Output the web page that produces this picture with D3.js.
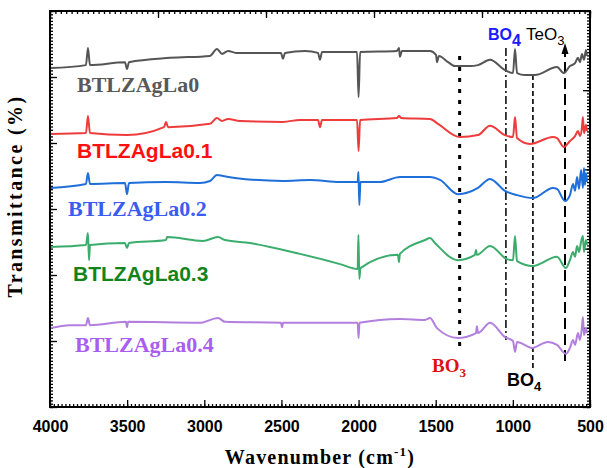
<!DOCTYPE html>
<html>
<head>
<meta charset="utf-8">
<script src="https://cdn.jsdelivr.net/npm/d3@7"></script>
<style>
  body { margin: 0; background: #fff; }
  svg { display: block; }
</style>
</head>
<body>
<div id="chart"></div>
<script>
// FTIR spectra, values (wavenumber, transmittance a.u.)
var xTicks = [4000, 3500, 3000, 2500, 2000, 1500, 1000, 500];

var seriesNames = ["BTLZAgLa0", "BTLZAgLa0.1", "BTLZAgLa0.2", "BTLZAgLa0.3", "BTLZAgLa0.4"];

var la0 = [[4000,102.7],[3767,103.6],[3754,108.8],[3741,103.6],[3514,104.5],[3501,102.4],[3488,104.5],
  [3222,105.8],[2963,106.4],[2918,108.5],[2885,107.0],[2846,107.9],[2794,107.3],[2503,107.3],[2490,105.5],
  [2477,107.3],[2347,107.9],[2263,107.3],[2250,105.2],[2237,107.6],[2010,107.6],[2000,93.9],[1990,107.6],
  [1751,107.9],[1738,108.8],[1732,106.1],[1719,107.9],[1537,107.9],[1498,106.7],[1492,104.5],[1479,106.4],
  [1420,104.5],[1375,103.3],[1278,103.3],[1226,103.6],[1148,105.2],[1051,102.1],[999,101.2],[986,108.5],[973,101.2],
  [922,100.6],[857,100.6],[714,103.0],[669,101.2],[630,103.3],[597,104.2],[578,105.8],[565,104.5],
  [552,107.0],[539,105.2],[526,108.2],[520,106.4]];

var la01 = [[4000,82.7],[3767,83.0],[3754,88.2],[3741,83.0],[3501,82.4],[3261,84.8],[3248,86.4],[3235,84.8],
  [2963,85.8],[2918,87.6],[2885,86.7],[2846,87.3],[2769,86.7],[2490,86.4],[2380,87.0],[2263,87.0],[2250,84.8],
  [2237,87.0],[2010,87.0],[2000,77.6],[1990,87.0],[1751,87.6],[1738,88.2],[1725,87.6],[1537,87.3],[1485,85.8],
  [1343,81.8],[1226,82.4],[1148,85.2],[1051,82.4],[999,81.8],[986,87.9],[973,81.5],[889,79.7],[740,81.8],
  [714,81.5],[669,78.8],[630,80.6],[597,82.1],[578,83.6],[565,82.1],[552,84.8],[546,87.9],[539,83.0],
  [526,85.5],[520,83.6]];

var la02 = [[4000,66.4],[3767,67.6],[3754,70.9],[3741,67.6],[3514,67.9],[3501,64.5],[3488,67.9],[3248,68.2],
  [3028,67.9],[2963,68.5],[2918,70.3],[2879,70.0],[2801,69.4],[2490,68.5],[2315,68.8],[2120,68.2],[2006,68.2],
  [2001,71.2],[1995,61.2],[1988,68.2],[1861,68.2],[1732,69.7],[1537,69.7],[1472,68.8],[1356,64.5],[1226,66.4],
  [1148,69.1],[1051,65.5],[973,64.2],[870,63.3],[740,66.4],[714,66.1],[662,62.4],[630,64.2],[610,67.6],
  [597,65.5],[584,69.7],[571,66.1],[558,71.8],[546,66.4],[539,72.4],[533,67.3],[526,70.9],[520,68.2]];

var la03 = [[4000,48.5],[3767,49.1],[3754,52.7],[3747,44.5],[3741,49.1],[3514,49.7],[3501,48.2],[3488,49.7],
  [3248,50.6],[3241,51.5],[3008,50.3],[2911,51.5],[2866,50.6],[2704,49.7],[2380,46.4],[2120,43.3],[2006,41.8],
  [2001,52.1],[1995,38.8],[1988,42.1],[1745,46.1],[1738,43.9],[1732,46.4],[1569,50.6],[1537,51.2],[1505,49.7],
  [1356,44.5],[1246,46.1],[1239,47.6],[1233,46.1],[1148,48.8],[1038,44.8],[999,44.5],[986,51.8],[973,44.2],
  [870,42.7],[714,45.5],[656,42.1],[630,44.5],[610,47.0],[597,45.5],[584,48.8],[571,47.0],[558,50.0],
  [546,51.8],[539,47.0],[526,50.6],[520,49.1]];

var la04 = [[4000,23.9],[3870,24.8],[3767,24.8],[3754,27.0],[3741,24.8],[3507,25.8],[3501,24.2],[3494,25.8],
  [3028,25.5],[2911,27.0],[2866,25.8],[2503,25.5],[2496,24.2],[2490,25.5],[2006,25.5],[2000,20.9],[1994,25.5],
  [1732,26.7],[1569,26.4],[1537,27.0],[1492,23.9],[1356,20.9],[1239,22.4],[1233,24.5],[1226,22.4],[1148,25.5],
  [1051,21.2],[999,20.0],[986,16.7],[973,19.7],[876,17.9],[773,19.7],[714,18.8],[656,16.1],[630,17.9],
  [610,20.3],[597,18.8],[578,22.4],[565,20.3],[552,24.2],[546,27.3],[539,21.8],[526,23.9],[520,22.4]];

// band markers: position, top, bottom (same units as the spectra)
var bandPos = [1345, 1045, 870, 662];
var bandTop = [106.4, 108.8, 100.6, 109.4];
var bandBottom = [17.3, 20.3, 10.9, 13.6];

var svgWidth = 607;
var svgHeight = 468;

var margin = {top: 11, left: 50, right: 17, bottom: 61};
var width = svgWidth - margin.left - margin.right;
var height = svgHeight - margin.top - margin.bottom;

var svg = d3.select("#chart")
  .append("svg")
  .attr("width", svgWidth)
  .attr("height", svgHeight);

var g = svg.append("g")
  .attr("transform", `translate(${margin.left}, ${margin.top})`);

var x = d3.scaleLinear().domain([4000, 500]).range([0, width]);
var y = d3.scaleLinear().domain([0, 120]).range([height, 0]);
// the top and right frames carry their own unlabeled scales
var xTop = d3.scaleLinear().domain([0, 5]).range([0, width]);
var yRight = d3.scaleLinear().domain([0, 5]).range([height, 0]);

function hideDomain(sel) { sel.select(".domain").remove(); }

// minor ticks
g.append("g").attr("transform", `translate(0, ${height})`)
  .call(d3.axisBottom(x).tickValues(d3.range(4000, 499, -25)).tickSize(-3).tickFormat(""))
  .call(hideDomain);
g.append("g")
  .call(d3.axisTop(xTop).tickValues(d3.range(0, 5.001, 0.05)).tickSize(-3).tickFormat(""))
  .call(hideDomain);
g.append("g")
  .call(d3.axisLeft(y).tickValues(d3.range(0, 120.01, 1)).tickSize(-3).tickFormat(""))
  .call(hideDomain);
g.append("g").attr("transform", `translate(${width}, 0)`)
  .call(d3.axisRight(yRight).tickValues(d3.range(0, 5.001, 0.04)).tickSize(-3).tickFormat(""))
  .call(hideDomain);

// major ticks
var xAxis = g.append("g").attr("transform", `translate(0, ${height})`)
  .call(d3.axisBottom(x).tickValues(xTicks).tickSize(-7).tickPadding(14).tickFormat(d3.format("d")))
  .call(hideDomain);
xAxis.selectAll("text")
  .attr("font-family", "Liberation Sans, Arial, sans-serif")
  .attr("font-weight", "bold")
  .attr("font-size", 16)
  .attr("fill", "#000");

g.append("g")
  .call(d3.axisTop(xTop).ticks(5).tickSize(-7).tickFormat(""))
  .call(hideDomain);
g.append("g")
  .call(d3.axisLeft(y).tickValues(d3.range(0, 121, 20)).tickSize(-7).tickFormat(""))
  .call(hideDomain);
g.append("g").attr("transform", `translate(${width}, 0)`)
  .call(d3.axisRight(yRight).ticks(5).tickSize(-7).tickFormat(""))
  .call(hideDomain);

g.selectAll(".tick line").attr("stroke", "#000").attr("stroke-width", 1.3);

// band marker lines
var bandDash = ["4,7", "8,3,2,3", "5,3", "11,5"];
var bandWidth = [3, 1.5, 1.6, 2];

g.selectAll(".band")
  .data(bandPos)
  .enter()
  .append("line")
  .attr("class", "band")
  .attr("x1", d => x(d))
  .attr("x2", d => x(d))
  .attr("y1", (d, i) => y(bandTop[i]))
  .attr("y2", (d, i) => y(bandBottom[i]))
  .attr("stroke", "#000")
  .attr("stroke-width", (d, i) => bandWidth[i])
  .attr("stroke-dasharray", (d, i) => bandDash[i]);

// arrow head on the TeO3 line
var ax = x(bandPos[3]);
var ay = y(bandTop[3]);
g.append("path")
  .attr("d", `M${ax},${ay - 3} L${ax - 3.5},${ay + 8} L${ax + 3.5},${ay + 8} Z`)
  .attr("fill", "#000");

// spectra
var seriesData = [la0, la01, la02, la03, la04];
var lineColors = ["#555555", "#ee3c3c", "#1f6fdb", "#3aad6c", "#b27fde"];

var line = d3.line()
  .x(d => x(d[0]))
  .y(d => y(d[1]))
  .curve(d3.curveMonotoneX);

g.selectAll(".spectrum")
  .data(seriesData)
  .enter()
  .append("path")
  .attr("class", "spectrum")
  .attr("d", line)
  .attr("fill", "none")
  .attr("stroke", (d, i) => lineColors[i])
  .attr("stroke-width", 2)
  .attr("stroke-linejoin", "round");

// series labels
var serif = "Liberation Serif, Times New Roman, serif";
var sans = "Liberation Sans, Arial, sans-serif";
var labelFonts = [serif, sans, serif, sans, serif];
var labelColors = ["#595959", "#ff1010", "#3a5cf0", "#12841a", "#a95ef0"];
var labelX = [27, 27, 18, 23, 25];
var labelY = [81, 147, 205, 270, 341];

g.selectAll(".slabel")
  .data(seriesNames)
  .enter()
  .append("text")
  .attr("class", "slabel")
  .attr("x", (d, i) => labelX[i])
  .attr("y", (d, i) => labelY[i])
  .attr("font-family", (d, i) => labelFonts[i])
  .attr("font-weight", "bold")
  .attr("font-size", (d, i) => i % 2 ? 21 : 22)
  .attr("fill", (d, i) => labelColors[i])
  .text(d => d);

// band labels
function chem(px, py, base, sub, opts) {
  var t = g.append("text")
    .attr("x", px)
    .attr("y", py)
    .attr("font-family", opts.font)
    .attr("font-weight", opts.weight)
    .attr("font-size", opts.size)
    .attr("fill", opts.color);
  t.append("tspan").text(base);
  t.append("tspan").attr("dy", opts.dy).attr("font-size", opts.subSize).text(sub);
}

chem(438, 29, "BO", "4", {font: sans, weight: "bold", size: 16, subSize: 16, dy: 6, color: "#1a1aff"});
chem(476, 29, "TeO", "3", {font: sans, weight: "normal", size: 17, subSize: 13, dy: 5, color: "#000"});
chem(382, 361, "BO", "3", {font: serif, weight: "bold", size: 19, subSize: 13, dy: 5, color: "#dd1111"});
chem(457, 375, "BO", "4", {font: sans, weight: "bold", size: 18, subSize: 13, dy: 5, color: "#000"});

// frame
g.append("rect")
  .attr("width", width)
  .attr("height", height)
  .attr("fill", "none")
  .attr("stroke", "#000")
  .attr("stroke-width", 2);

// axis titles
g.append("text")
  .attr("transform", "rotate(-90)")
  .attr("x", 0 - 185)
  .attr("y", -28)
  .attr("text-anchor", "middle")
  .attr("font-family", serif)
  .attr("font-weight", "bold")
  .attr("font-size", 20)
  .attr("letter-spacing", 2.4)
  .text("Transmittance (%)");

var xt = g.append("text")
  .attr("x", width / 2)
  .attr("y", height + 57)
  .attr("text-anchor", "middle")
  .attr("font-family", serif)
  .attr("font-weight", "bold")
  .attr("font-size", 20)
  .attr("letter-spacing", 1.2);
xt.append("tspan").text("Wavenumber (cm");
xt.append("tspan").attr("dy", -8).attr("font-size", 13).text("-1");
xt.append("tspan").attr("dy", 8).text(")");
</script>
</body>
</html>
